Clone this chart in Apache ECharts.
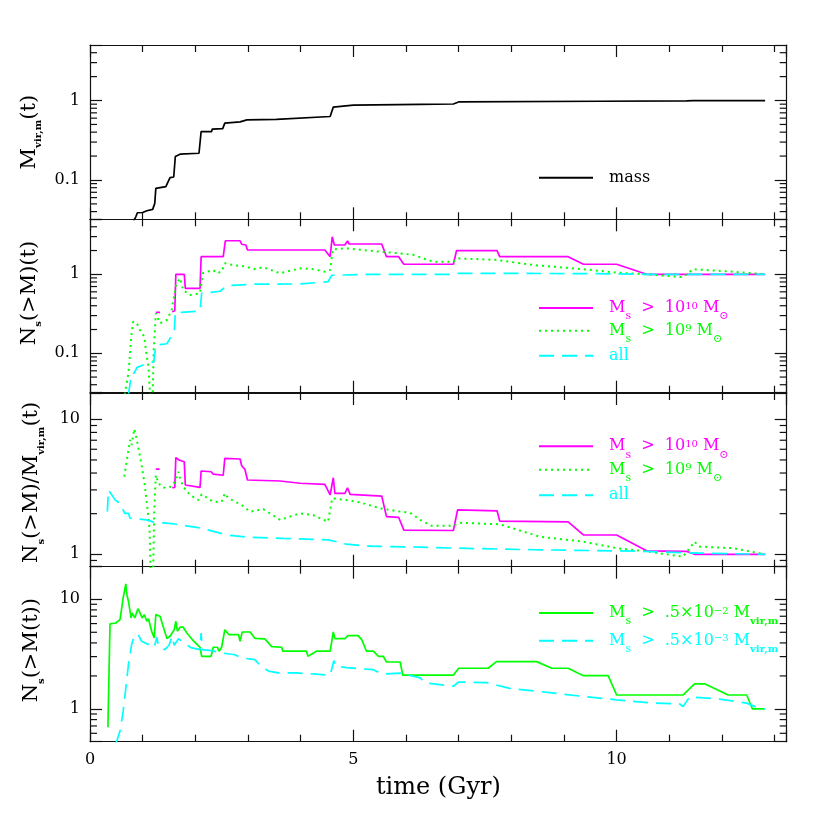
<!DOCTYPE html>
<html>
<head>
<meta charset="utf-8">
<script src="https://cdn.jsdelivr.net/npm/echarts@6/dist/echarts.min.js"></script>
<style>
  html, body { margin: 0; padding: 0; background: #fff; }
  #chart { width: 830px; height: 830px; }
</style>
</head>
<body>
<div id="chart"></div>
<script>
// ---- data: [time (Gyr), value] ----
const massData = [[0.82,0.03],[0.87,0.0344],[0.90,0.0387],[1.0,0.039],[1.08,0.041],[1.19,0.0427],[1.23,0.0508],[1.25,0.0785],[1.44,0.0824],[1.52,0.107],[1.59,0.109],[1.62,0.197],[1.71,0.211],[2.07,0.217],[2.11,0.406],[2.31,0.406],[2.32,0.436],[2.52,0.443],[2.56,0.519],[2.85,0.539],[2.98,0.571],[3.54,0.58],[4.56,0.63],[4.62,0.826],[5.0,0.875],[6.27,0.895],[6.9,0.905],[7.0,0.96],[9.68,0.98],[11.33,0.99],[11.46,1.0],[12.82,1.0]]

// panel 2 : N_s(>M)(t)
const m10Count = [[1.25,0.33],[1.33,0.33],[1.44,null],[1.56,0.336],[1.61,0.346],[1.63,1.0],[1.79,1.0],[1.81,0.665],[2.09,0.665],[2.11,1.67],[2.53,1.67],[2.57,2.66],[2.85,2.66],[2.88,2.4],[2.96,2.35],[2.99,2.03],[4.46,2.03],[4.56,1.67],[4.6,2.99],[4.64,2.35],[4.84,2.35],[4.89,2.64],[4.92,2.42],[5.54,2.42],[5.63,1.67],[5.86,1.67],[5.96,1.34],[6.9,1.34],[6.96,1.99],[7.73,1.99],[7.78,1.67],[9.08,1.67],[9.37,1.34],[10.0,1.34],[10.57,1.0],[12.82,1.0]]
const m9Count = [[0.66,0.03],[0.73,0.056],[0.79,0.179],[0.82,0.251],[0.89,0.24],[0.95,0.197],[1.03,0.162],[1.07,0.1],[1.11,0.068],[1.14,0.03],[1.19,0.03],[1.21,0.11],[1.25,0.32],[1.33,0.24],[1.46,0.264],[1.55,0.353],[1.64,0.77],[1.71,0.89],[1.77,0.63],[1.90,0.547],[2.09,0.575],[2.14,1.03],[2.22,1.08],[2.34,1.13],[2.41,1.03],[2.5,1.08],[2.56,1.38],[2.72,1.31],[2.97,1.25],[3.1,1.16],[3.29,1.23],[3.61,1.03],[3.99,1.19],[4.24,1.16],[4.46,1.08],[4.56,1.13],[4.61,2.07],[4.87,2.13],[5.06,2.07],[5.51,1.93],[5.89,1.84],[6.14,1.76],[6.52,1.44],[6.9,1.44],[7.0,1.59],[7.72,1.52],[8.42,1.31],[9.37,1.16],[10.0,1.05],[10.57,1.0],[11.26,0.92],[11.45,1.16],[12.21,1.08],[12.82,1.0]]
const allCount = [[0.73,0.03],[0.79,0.056],[0.84,0.056],[0.89,0.066],[1.07,0.074],[1.21,0.078],[1.25,0.127],[1.46,0.132],[1.6,0.19],[1.62,0.327],[2.09,0.343],[2.12,0.575],[2.47,0.61],[2.6,0.72],[3.1,0.75],[3.99,0.754],[4.52,0.806],[4.59,0.97],[5.25,1.0],[6.9,1.0],[7.0,1.03],[9.5,1.02],[10.57,1.0],[12.82,1.0]]

// panel 3 : N_s(>M)/M_vir,m(t)
const m10Ratio = [[1.25,4.28],[1.32,4.28],[1.44,null],[1.56,3.11],[1.61,3.13],[1.63,5.2],[1.69,5.0],[1.79,4.85],[1.81,3.26],[2.09,3.13],[2.11,4.14],[2.30,4.09],[2.34,3.93],[2.53,3.85],[2.56,5.14],[2.85,5.08],[2.88,4.53],[2.94,4.28],[2.99,3.55],[3.61,3.49],[3.99,3.36],[4.46,3.3],[4.56,2.75],[4.62,3.69],[4.65,2.83],[4.84,2.83],[4.89,3.11],[4.94,2.78],[5.54,2.7],[5.63,1.9],[5.86,1.88],[5.96,1.51],[6.9,1.5],[6.98,2.13],[7.73,2.1],[7.78,1.76],[9.08,1.74],[9.37,1.39],[10.0,1.39],[10.57,1.06],[11.33,1.05],[11.48,1.0],[12.82,1.0]]
const m9Ratio = [[0.65,3.76],[0.70,4.99],[0.73,5.93],[0.76,7.03],[0.79,6.45],[0.84,8.5],[0.87,7.66],[0.92,6.1],[0.98,4.59],[1.04,3.26],[1.09,2.19],[1.13,1.56],[1.15,0.78],[1.20,0.78],[1.22,2.07],[1.25,3.87],[1.3,3.36],[1.39,3.11],[1.55,3.17],[1.61,3.45],[1.68,4.09],[1.71,3.66],[1.77,3.17],[1.9,2.75],[2.06,2.52],[2.12,2.78],[2.34,2.45],[2.5,2.45],[2.56,2.83],[2.63,2.6],[2.88,2.32],[3.04,2.07],[3.29,2.16],[3.61,1.8],[3.99,2.01],[4.24,1.95],[4.52,1.74],[4.6,2.6],[4.87,2.52],[5.12,2.43],[5.51,2.19],[5.89,2.07],[6.08,2.03],[6.27,1.8],[6.48,1.63],[6.9,1.63],[7.02,1.71],[7.78,1.67],[8.54,1.35],[9.37,1.24],[10.0,1.11],[10.57,1.05],[11.26,0.96],[11.48,1.24],[11.57,1.14],[12.21,1.11],[12.82,1.0]]
const allRatio = [[0.33,2.07],[0.35,2.99],[0.48,2.52],[0.57,2.39],[0.66,2.01],[0.73,2.01],[0.76,1.85],[1.07,1.8],[1.21,1.73],[1.46,1.7],[1.64,1.67],[2.09,1.57],[2.6,1.39],[2.97,1.34],[3.66,1.31],[4.52,1.28],[4.87,1.19],[5.25,1.15],[6.27,1.13],[6.96,1.11],[8.42,1.08],[10.0,1.06],[10.57,1.05],[11.57,1.02],[12.82,1.0]]

// panel 4 : N_s(>M(t))
const frac2Count = [[0.34,0.68],[0.38,5.96],[0.49,6.07],[0.57,6.52],[0.6,6.37],[0.63,10.3],[0.68,13.8],[0.70,11.0],[0.73,9.6],[0.78,6.75],[0.80,7.5],[0.85,6.75],[0.91,8.2],[0.95,7.5],[0.99,6.75],[1.03,7.24],[1.08,6.3],[1.11,6.65],[1.17,5.11],[1.22,4.44],[1.25,7.24],[1.33,7.0],[1.46,4.38],[1.52,4.6],[1.6,5.28],[1.63,6.3],[1.66,5.11],[1.71,5.56],[1.77,5.56],[1.84,4.93],[1.96,4.19],[2.09,3.65],[2.12,3.02],[2.30,3.02],[2.34,3.65],[2.42,3.65],[2.45,3.36],[2.5,3.65],[2.56,5.28],[2.64,4.75],[2.82,4.75],[2.85,4.14],[2.89,5.03],[3.04,5.03],[3.13,4.4],[3.32,4.35],[3.45,3.7],[3.64,3.65],[3.66,3.36],[4.11,3.36],[4.14,3.02],[4.3,3.36],[4.56,3.36],[4.62,5.03],[4.65,4.38],[4.84,4.38],[4.90,4.66],[5.09,4.66],[5.16,4.28],[5.25,3.36],[5.38,3.36],[5.48,3.02],[5.57,3.02],[5.63,2.68],[5.89,2.68],[5.94,2.03],[6.9,2.03],[7.0,2.35],[7.56,2.35],[7.72,2.7],[8.48,2.7],[8.77,2.35],[9.08,2.35],[9.37,2.01],[9.84,2.01],[10.0,1.34],[11.26,1.34],[11.48,1.69],[11.68,1.69],[12.12,1.34],[12.47,1.34],[12.58,1.0],[12.82,1.0]]
const frac3Count = [[0.49,0.48],[0.57,0.63],[0.63,0.95],[0.68,1.55],[0.73,2.54],[0.79,3.86],[0.84,4.6],[0.91,4.83],[0.98,4.14],[1.14,3.81],[1.22,3.65],[1.27,4.5],[1.3,3.73],[1.42,3.47],[1.5,3.81],[1.56,4.6],[1.6,3.81],[1.68,4.38],[1.77,4.0],[1.93,3.6],[2.09,3.47],[2.11,4.93],[2.13,3.47],[2.31,3.4],[2.5,3.24],[2.75,3.12],[2.88,2.92],[3.13,2.82],[3.23,2.5],[3.39,2.21],[3.57,2.13],[3.92,2.13],[4.3,2.08],[4.56,2.03],[4.63,2.76],[4.67,2.45],[4.87,2.38],[5.38,2.28],[5.54,2.08],[5.89,2.12],[6.27,1.92],[6.36,1.73],[6.9,1.61],[7.0,1.76],[7.53,1.74],[7.97,1.54],[8.73,1.41],[9.37,1.3],[10.0,1.21],[10.7,1.13],[11.2,1.11],[11.26,1.05],[11.39,1.29],[11.96,1.23],[12.47,1.13],[12.72,1.01],[12.82,1.0]]

// minor tick values of the log axes
const minorTicksLow = [0.04,0.05,0.06,0.07,0.08,0.09,0.2,0.3,0.4,0.5,0.6,0.7,0.8,0.9,2,3,4]
const minorTicksMid = [0.9,2,3,4,5,6,7,8,9]
const minorTicksHigh = [0.6,0.7,0.8,0.9,2,3,4,5,6,7,8,9]

const T_MAX = 13.23
const SERIF = 'DejaVu Serif'
const INK = '#111'

// legend labels (rich text)
const legendLabels = {
  mass: '{m0|mass}',
  m10a: '{m0|M}{sub|s}{m|  >  10}{sup|10}{m| M}{sub|⊙}',
  m9a: '{m0|M}{sub|s}{m|  >  10}{sup|9}{m| M}{sub|⊙}',
  alla: '{m0|all}',
  m10b: '{m0|M}{sub|s}{m|  >  10}{sup|10}{m| M}{sub|⊙}',
  m9b: '{m0|M}{sub|s}{m|  >  10}{sup|9}{m| M}{sub|⊙}',
  allb: '{m0|all}',
  g5: '{m0|M}{sub|s}{m|  >  .5×10}{sup|−2}{m| M}{subb|vir,m}',
  c3: '{m0|M}{sub|s}{m|  >  .5×10}{sup|−3}{m| M}{subb|vir,m}'
}

const panels = [
  { top: 45, height: 174.3, min: 0.032, max: 5, minor: minorTicksLow, pad: [0, 0, 0, 0],
    name: '{m|M}{sub|vir,m}{m|(t)}' },
  { top: 219.3, height: 173.4, min: 0.0317, max: 4.97, minor: minorTicksLow, pad: [0, 0, 0, 26],
    name: '{m|N}{sub|s}{m|(>M)(t)}' },
  { top: 393, height: 173.7, min: 0.809, max: 15.67, minor: minorTicksMid, pad: [0, 5, 0, 0],
    name: '{m|N}{sub|s}{m|(>M)/M}{sub|vir,m}{m|(t)}' },
  { top: 566.7, height: 175, min: 0.503, max: 19.8, minor: minorTicksHigh, pad: [0, 0, 0, 8],
    name: '{m|N}{sub|s}{m|(>M(t))}' }
]

const lineStyleAx = { color: INK, width: 1.2 }

const richLegend = {
  m0: { fontSize: 16, lineHeight: 20, verticalAlign: 'middle', padding: [0, 0, 0, 11] },
  m: { fontSize: 16, lineHeight: 20, verticalAlign: 'middle' },
  sub: { fontSize: 11, lineHeight: 20, verticalAlign: 'middle', padding: [17, 0, 0, 0] },
  subb: { fontSize: 10, fontWeight: 'bold', lineHeight: 20, verticalAlign: 'middle', padding: [17, 0, 0, 0] },
  sup: { fontSize: 10, lineHeight: 20, verticalAlign: 'middle', padding: [0, 0, 4, 0] }
}
const richName = {
  m: { fontSize: 21, lineHeight: 26, verticalAlign: 'middle', fontFamily: SERIF, color: '#000' },
  sub: { fontSize: 10, fontWeight: 'bold', lineHeight: 26, verticalAlign: 'middle', padding: [18, 0, 0, 0], fontFamily: SERIF, color: '#000' }
}

function isDecade(v) {
  const l = Math.log10(v)
  return Math.abs(l - Math.round(l)) < 1e-6
}

const grid = panels.map(p => ({
  left: 90, right: 43.3, top: p.top, height: p.height, outerBoundsMode: 'none', containLabel: false
}))

const xAxis = []
const yAxis = []
panels.forEach((p, i) => {
  const last = i === panels.length - 1
  ;['bottom', 'top'].forEach(pos => {
    const withLabels = last && pos === 'bottom'
    xAxis.push({
      type: 'value', gridIndex: i, position: pos, min: 0, max: T_MAX, interval: 5,
      axisLine: { show: true, onZero: false, lineStyle: lineStyleAx },
      axisTick: { show: true, inside: true, length: 12, lineStyle: lineStyleAx },
      minorTick: { show: true, splitNumber: 5, length: 7, lineStyle: lineStyleAx },
      splitLine: { show: false }, minorSplitLine: { show: false },
      axisLabel: {
        show: withLabels, margin: 10, fontSize: 16, color: '#000', fontFamily: SERIF,
        formatter: v => (Math.abs(v / 5 - Math.round(v / 5)) < 1e-6 ? String(Math.round(v)) : '')
      },
      name: withLabels ? 'time (Gyr)' : '', nameLocation: 'middle', nameGap: 34,
      nameTextStyle: { fontSize: 24, color: '#000', fontFamily: SERIF }
    })
  })
  ;['left', 'right'].forEach(pos => {
    const left = pos === 'left'
    yAxis.push({
      type: 'log', logBase: 10, gridIndex: i, position: pos, min: p.min, max: p.max,
      axisLine: { show: true, onZero: false, lineStyle: lineStyleAx },
      axisTick: { show: true, inside: true, length: 12, lineStyle: lineStyleAx },
      minorTick: { show: false }, splitLine: { show: false },
      axisLabel: {
        show: left, margin: 10, fontSize: 16, color: '#000', fontFamily: SERIF,
        formatter: v => (isDecade(v) ? String(Number(v.toPrecision(6))) : '')
      },
      name: left ? p.name : '', nameLocation: 'middle', nameRotate: 90, nameGap: 45,
      nameTextStyle: { rich: richName, padding: p.pad }
    })
  })
})

function line(name, data, panel, color, type, width) {
  return {
    type: 'line', name: name, data: data, xAxisIndex: 2 * panel, yAxisIndex: 2 * panel,
    showSymbol: false, symbol: 'none', connectNulls: false, clip: true, z: 3,
    lineStyle: { color: color, width: width, type: type, cap: 'butt' },
    itemStyle: { color: color }
  }
}

// short ticks at 2..9 x 10^n on both vertical edges, placed by the log scale
function minorTickSeries(i) {
  return {
    type: 'custom', xAxisIndex: 2 * i, yAxisIndex: 2 * i, silent: true, clip: false, z: 4,
    data: panels[i].minor.map(v => [0, v]),
    renderItem: (params, api) => {
      const cs = params.coordSys
      const y = api.coord([0, api.value(1)])[1]
      const st = { stroke: INK, lineWidth: 1.2 }
      return {
        type: 'group',
        children: [
          { type: 'line', shape: { x1: cs.x, y1: y, x2: cs.x + 7, y2: y }, style: st },
          { type: 'line', shape: { x1: cs.x + cs.width - 7, y1: y, x2: cs.x + cs.width, y2: y }, style: st }
        ]
      }
    }
  }
}

const DOT = [2, 4]
const DASH = [15, 8]
const MAG = '#ff00ff', GRN = '#00ff00', CYN = '#00ffff'

const series = [
  line('mass', massData, 0, '#000', 'solid', 1.7),
  line('m10a', m10Count, 1, MAG, 'solid', 1.7),
  line('m9a', m9Count, 1, GRN, DOT, 2),
  line('alla', allCount, 1, CYN, DASH, 1.7),
  line('m10b', m10Ratio, 2, MAG, 'solid', 1.7),
  line('m9b', m9Ratio, 2, GRN, DOT, 2),
  line('allb', allRatio, 2, CYN, DASH, 1.7),
  line('g5', frac2Count, 3, GRN, 'solid', 1.7),
  line('c3', frac3Count, 3, CYN, DASH, 1.7)
]
panels.forEach((p, i) => series.push(minorTickSeries(i)))

// one legend per row: [series, text colour, row centre y, offset of the row centre below its box top]
const legendRows = [
  ['mass', '#000', 176.7, 9],
  ['m10a', MAG, 309, 15], ['m9a', GRN, 331.7, 15], ['alla', CYN, 354.3, 8.5],
  ['m10b', MAG, 447.3, 15], ['m9b', GRN, 470.7, 15], ['allb', CYN, 493.7, 8.5],
  ['g5', GRN, 614, 15], ['c3', CYN, 641.7, 15]
]

const legends = legendRows.map(([n, c, y, k]) => ({
  orient: 'vertical', left: 538, top: y - k, padding: 0,
  itemWidth: 54, itemHeight: 14, selectedMode: false,
  itemStyle: { opacity: 0, borderWidth: 0 },
  textStyle: { fontFamily: SERIF, fontSize: 16, lineHeight: 20, rich: richLegend },
  formatter: name => legendLabels[name],
  data: [{ name: n, textStyle: { color: c } }]
}))

const option = {
  animation: false,
  backgroundColor: '#fff',
  textStyle: { fontFamily: SERIF },
  grid: grid,
  xAxis: xAxis,
  yAxis: yAxis,
  legend: legends,
  series: series
}

const chart = echarts.init(document.getElementById('chart'), null, { renderer: 'canvas' })
chart.setOption(option)
</script>
</body>
</html>
